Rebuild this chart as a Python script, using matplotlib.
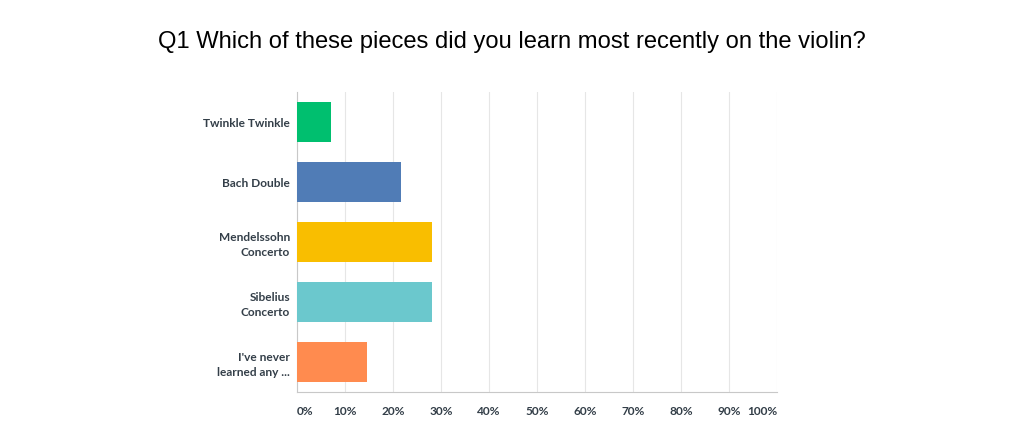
import matplotlib.pyplot as plt

# Answer choices and share of respondents (%)
answers = ['Twinkle Twinkle', 'Bach Double', 'Mendelssohn\nConcerto',
           'Sibelius\nConcerto', "I've never\nlearned any ..."]
shares = [7.05, 21.7, 28.2, 28.2, 14.6]
colors = ['#00bf6f', '#507cb6', '#f9be00', '#6bc8cd', '#ff8b4f']
ticks = [0, 10, 20, 30, 40, 50, 60, 70, 80, 90, 100]

fig = plt.figure(figsize=(10.24, 4.45), dpi=100)
ax = fig.add_axes([0.290, 0.119, 0.469, 0.674])

pos = list(range(len(answers)))
ax.barh(pos, shares, height=0.667, color=colors, zorder=3)
ax.set_ylim(len(answers) - 0.5, -0.5)
ax.set_xlim(0, 100)

ax.set_yticks(pos)
ax.set_yticklabels(answers, fontsize=8.6, fontweight='bold', color='#333e48',
                   family='Lato', linespacing=1.45)
ax.set_xticks(ticks)
ax.set_xticklabels([f'{t}%' for t in ticks], fontsize=8.6, fontweight='bold',
                   color='#333e48', family='Lato')
labels = ax.get_xticklabels()
labels[0].set_ha('left')
labels[-1].set_ha('right')
ax.tick_params(length=0, pad=10)
ax.tick_params(axis='y', pad=5)

ax.grid(axis='x', color='#e6e6e6', linewidth=0.8, zorder=0)
for s in ['top', 'right']:
    ax.spines[s].set_visible(False)
ax.spines['left'].set_color('#c8c8c8')
ax.spines['bottom'].set_color('#c8c8c8')

fig.text(0.5, 0.905, 'Q1 Which of these pieces did you learn most recently on the violin?',
         ha='center', va='center', fontsize=17.1, family='Liberation Sans', color='#000000')

fig.savefig('out.png', dpi=100)
